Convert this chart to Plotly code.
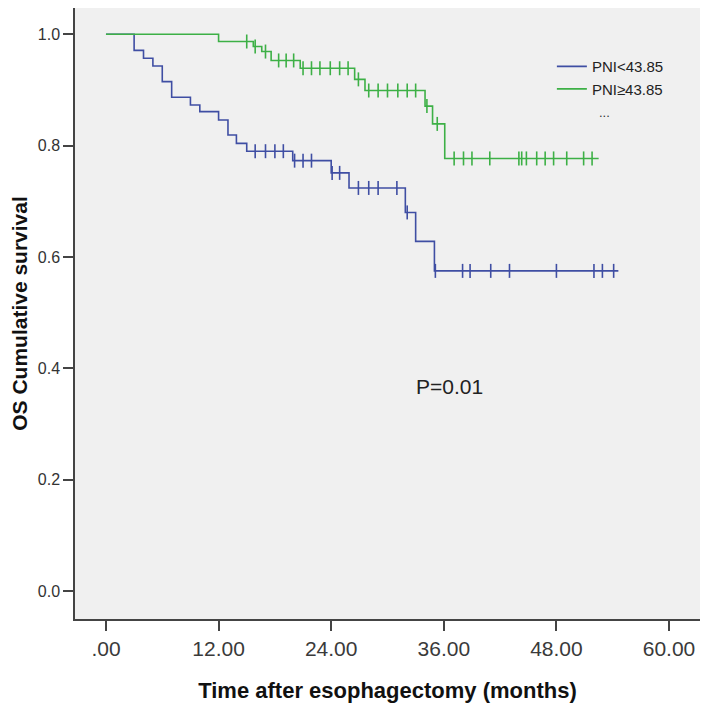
import numpy as np
import plotly.graph_objects as go

# Kaplan-Meier steps (months, cumulative survival)
low_times = [0, 3.0, 4.0, 5.0, 6.0, 7.0, 9.0, 10.0, 12.0, 13.0, 13.9, 15.0, 19.9, 24.0, 25.9, 31.9, 33.0, 35.0, 54.6]
low_surv = [1.0, 0.971, 0.957, 0.943, 0.915, 0.887, 0.873, 0.861, 0.846, 0.819, 0.804, 0.790, 0.773, 0.751, 0.724, 0.680, 0.628, 0.575, 0.575]
low_censor = [15.9, 17.0, 18.0, 18.9, 20.1, 21.0, 21.9, 24.1, 24.9, 26.9, 28.0, 29.0, 31.0, 32.1,
              35.1, 38.0, 38.8, 41.0, 43.0, 48.0, 52.0, 52.9, 54.1]

high_times = [0, 12.0, 15.7, 16.6, 17.6, 20.7, 26.5, 27.6, 34.0, 34.8, 36.1, 52.5]
high_surv = [1.0, 0.987, 0.978, 0.969, 0.953, 0.939, 0.919, 0.899, 0.871, 0.839, 0.777, 0.777]
high_censor = [15.0, 15.9, 17.0, 18.4, 19.2, 20.0, 21.0, 21.9, 22.8, 23.9, 24.9, 25.8, 26.9,
               28.0, 29.0, 30.0, 31.1, 32.1, 33.0, 34.2, 35.3, 37.1, 38.1, 39.0, 40.9, 44.0,
               44.3, 44.8, 45.9, 46.8, 47.7, 49.1, 50.9, 51.8]

x_ticks = [0, 12, 24, 36, 48, 60]
x_labels = ['.00', '12.00', '24.00', '36.00', '48.00', '60.00']
y_ticks = [0.0, 0.2, 0.4, 0.6, 0.8, 1.0]

groups = [
    ('PNI<43.85', low_times, low_surv, low_censor, '#3F4EA3'),
    ('PNI\u226543.85', high_times, high_surv, high_censor, '#3DB046'),
]


def surv_at(times, surv, t):
    # step function lookup for censor marks
    idx = np.searchsorted(np.array(times), t, side='right') - 1
    return [surv[i] for i in idx]


fig = go.Figure()

for name, times, surv, cens, color in groups:
    fig.add_trace(go.Scatter(
        x=times, y=surv, name=name, mode='lines',
        line=dict(color=color, width=1.6, shape='hv'),
    ))
    fig.add_trace(go.Scatter(
        x=cens, y=surv_at(times, surv, cens), mode='markers', showlegend=False,
        marker=dict(symbol='line-ns', size=10, line=dict(color=color, width=1.6)),
    ))

fig.add_annotation(x=36.6, y=0.367, text='P=0.01', showarrow=False,
                   font=dict(size=21, color='#222222'))
fig.add_annotation(x=0.859, y=0.845, xref='paper', yref='paper', text='...',
                   showarrow=False, font=dict(size=13, color='#333333'))

# page body adds an 8px offset, so the figure is sized 700 and placed from there
fig.update_layout(
    width=700, height=700,
    margin=dict(l=67, r=8, t=0, b=89),
    paper_bgcolor='white',
    plot_bgcolor='#F0F0F0',
    font=dict(family='Arial', color='#222222'),
    legend=dict(x=0.763, y=0.931, xanchor='left', yanchor='top',
                bgcolor='rgba(0,0,0,0)', font=dict(size=15, color='#222222'),
                itemwidth=30, tracegroupgap=0),
    showlegend=True,
)

fig.update_xaxes(
    range=[-3.3, 63.3], tickvals=x_ticks, ticktext=x_labels, automargin=False,
    showgrid=False, zeroline=False,
    showline=True, mirror=True, linecolor='#444444', linewidth=1.5,
    ticks='outside', ticklen=10, tickwidth=1.5, tickcolor='#444444',
    tickfont=dict(size=21, color='#3a3a3a'),
    title=dict(text='Time after esophagectomy (months)', standoff=24,
               font=dict(size=22, weight='bold', color='#111111')),
)
fig.update_yaxes(
    range=[-0.0503, 1.0472], tickvals=y_ticks, tickformat='.1f', automargin=False,
    showgrid=False, zeroline=False,
    showline=True, mirror=True, linecolor='#444444', linewidth=1.5,
    ticks='outside', ticklen=10, tickwidth=1.5, tickcolor='#444444',
    tickfont=dict(size=16, color='#333333'),
    title=dict(text='OS Cumulative survival', standoff=4,
               font=dict(size=21, weight='bold', color='#111111')),
)

fig.write_html("out.html")
